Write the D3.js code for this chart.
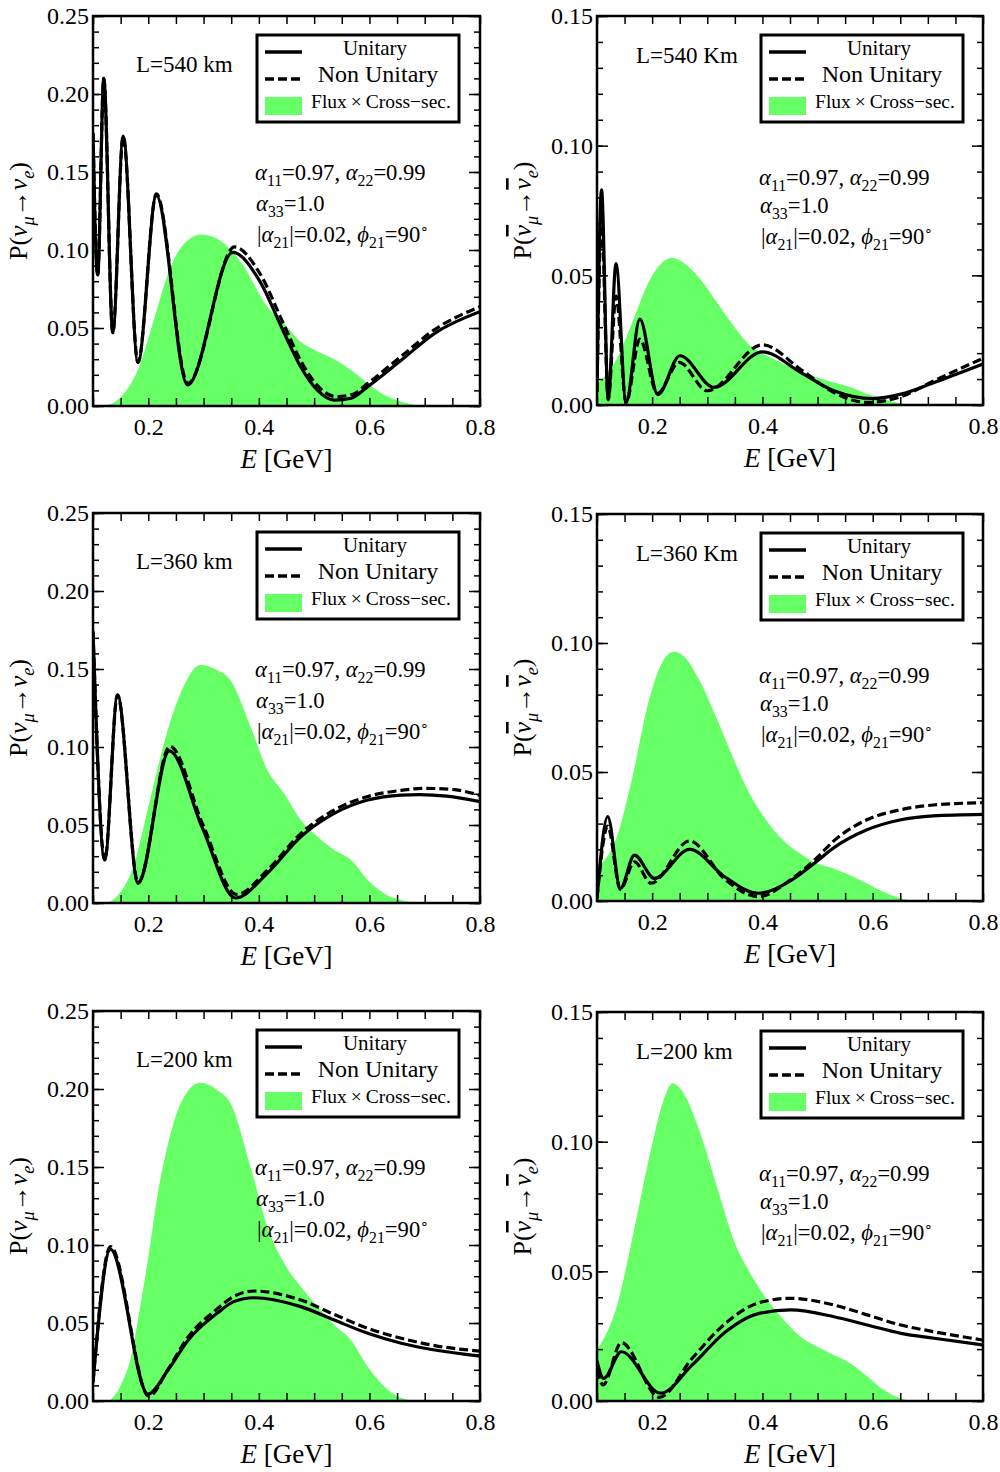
<!DOCTYPE html>
<html>
<head>
<meta charset="utf-8">
<script src="https://cdn.jsdelivr.net/npm/d3@7"></script>
<style>
body { margin: 0; background: #fff; }
svg text { font-family: "Liberation Serif", "Times New Roman", serif; fill: #000; }
</style>
</head>
<body>
<svg id="chart" width="1000" height="1472"></svg>
<script>
// [E (GeV), P]
let nu540Unitary = [[0.100, 0.175], [0.1085, 0.084], [0.1195, 0.210], [0.1358, 0.047], [0.1546, 0.173], [0.1813, 0.028], [0.2146, 0.135], [0.2709, 0.0135], [0.3528, 0.0985], [0.40, 0.081], [0.4455, 0.047], [0.4758, 0.025], [0.5061, 0.010], [0.5364, 0.0038], [0.567, 0.005], [0.597, 0.0124], [0.658, 0.0295], [0.718, 0.0466], [0.8, 0.0605]];
let nu540NonUnitary = [[0.100, 0.175], [0.1085, 0.084], [0.1195, 0.210], [0.1358, 0.047], [0.1546, 0.173], [0.1813, 0.028], [0.2146, 0.136], [0.2715, 0.0145], [0.356, 0.102], [0.40, 0.086], [0.4455, 0.052], [0.4758, 0.029], [0.5061, 0.013], [0.54, 0.006], [0.57, 0.0075], [0.597, 0.0145], [0.658, 0.032], [0.718, 0.049], [0.8, 0.0637]];
let nu540Flux = [[0.12, 0], [0.151, 0.006], [0.181, 0.023], [0.2116, 0.057], [0.2358, 0.085], [0.26, 0.102], [0.2964, 0.110], [0.333, 0.1053], [0.369, 0.0915], [0.4152, 0.0637], [0.4455, 0.053], [0.4758, 0.041], [0.5061, 0.035], [0.5364, 0.0300], [0.5667, 0.023], [0.597, 0.0145], [0.6273, 0.007], [0.6576, 0.0028], [0.706, 0], [0.8, 0]];

let anu540Unitary = [[0.100, 0.005], [0.1082, 0.083], [0.1203, 0.0023], [0.1345, 0.0545], [0.1527, 0.001], [0.1776, 0.0331], [0.2104, 0.004], [0.2503, 0.019], [0.3121, 0.0068], [0.40, 0.0205], [0.469, 0.0126], [0.5297, 0.0055], [0.60, 0.0025], [0.651, 0.0042], [0.7115, 0.0087], [0.8, 0.0158]];
let anu540NonUnitary = [[0.100, 0.005], [0.1082, 0.072], [0.1203, 0.002], [0.1345, 0.042], [0.1527, 0.001], [0.1776, 0.0254], [0.2095, 0.0045], [0.249, 0.0164], [0.30, 0.0055], [0.40, 0.0232], [0.469, 0.0138], [0.5297, 0.0048], [0.59, 0.001], [0.651, 0.0032], [0.7115, 0.0094], [0.8, 0.018]];
let anu540Flux = [[0.1, 0.008], [0.1358, 0.0177], [0.166, 0.033], [0.1964, 0.0485], [0.2267, 0.0562], [0.2358, 0.0568], [0.257, 0.0549], [0.2873, 0.0485], [0.3176, 0.0395], [0.3478, 0.0305], [0.378, 0.0228], [0.4085, 0.019], [0.4388, 0.0158], [0.469, 0.0132], [0.4994, 0.0106], [0.5297, 0.0087], [0.56, 0.0068], [0.5903, 0.0042], [0.62, 0.0023], [0.651, 0.0006], [0.68, 0], [0.8, 0]];

let nu360Unitary = [[0.100, 0.174], [0.1213, 0.0276], [0.1443, 0.1333], [0.1815, 0.0126], [0.238, 0.0975], [0.298, 0.048], [0.358, 0.0032], [0.4152, 0.019], [0.4758, 0.0425], [0.5364, 0.0575], [0.597, 0.066], [0.6576, 0.0692], [0.69, 0.0695], [0.74, 0.0685], [0.8, 0.065]];
let nu360NonUnitary = [[0.100, 0.174], [0.1213, 0.0276], [0.1443, 0.1335], [0.1815, 0.013], [0.239, 0.1005], [0.299, 0.050], [0.36, 0.0055], [0.4152, 0.021], [0.4758, 0.0445], [0.5364, 0.0596], [0.597, 0.0683], [0.6576, 0.0722], [0.70, 0.0735], [0.75, 0.0728], [0.8, 0.069]];
let nu360Flux = [[0.124, 0], [0.1425, 0.004], [0.1727, 0.023], [0.203, 0.066], [0.2335, 0.1088], [0.2636, 0.1387], [0.294, 0.1526], [0.3244, 0.1494], [0.3485, 0.143], [0.385, 0.113], [0.4152, 0.0853], [0.4455, 0.0703], [0.4758, 0.0532], [0.5061, 0.0425], [0.5364, 0.034], [0.5667, 0.0276], [0.597, 0.0147], [0.6273, 0.006], [0.6576, 0.002], [0.694, 0], [0.8, 0]];

let anu360Unitary = [[0.100, 0.001], [0.1194, 0.0327], [0.1424, 0.0049], [0.1679, 0.0178], [0.2042, 0.0088], [0.2679, 0.020], [0.3315, 0.0094], [0.392, 0.003], [0.4527, 0.0081], [0.4976, 0.0152], [0.5279, 0.0204], [0.5885, 0.0275], [0.649, 0.0314], [0.7097, 0.033], [0.8, 0.0336]];
let anu360NonUnitary = [[0.100, 0.001], [0.1194, 0.029], [0.1424, 0.0045], [0.1679, 0.0152], [0.198, 0.0069], [0.2679, 0.0233], [0.3315, 0.0085], [0.392, 0.0017], [0.4527, 0.0085], [0.4976, 0.0165], [0.5279, 0.023], [0.5885, 0.0314], [0.649, 0.0353], [0.7097, 0.0372], [0.8, 0.0381]];
let anu360Flux = [[0.1, 0.0133], [0.134, 0.0236], [0.1642, 0.048], [0.1945, 0.078], [0.2249, 0.0947], [0.24, 0.0966], [0.2551, 0.0953], [0.2855, 0.0857], [0.3158, 0.0714], [0.346, 0.0559], [0.3764, 0.0417], [0.4067, 0.0314], [0.437, 0.0236], [0.4673, 0.0185], [0.4976, 0.0146], [0.5279, 0.0127], [0.558, 0.0101], [0.5885, 0.0069], [0.619, 0.0036], [0.649, 0.0012], [0.685, 0], [0.8, 0]];

let nu200Unitary = [[0.100, 0.012], [0.1316, 0.0972], [0.1995, 0.0045], [0.236, 0.020], [0.272, 0.039], [0.3244, 0.0562], [0.3545, 0.0637], [0.391, 0.0662], [0.4758, 0.0605], [0.5364, 0.0519], [0.597, 0.0434], [0.6576, 0.037], [0.718, 0.0327], [0.8, 0.0288]];
let nu200NonUnitary = [[0.100, 0.012], [0.1316, 0.099], [0.201, 0.003], [0.236, 0.0205], [0.272, 0.041], [0.3244, 0.059], [0.3545, 0.067], [0.391, 0.0705], [0.4758, 0.0647], [0.5364, 0.0555], [0.597, 0.0466], [0.6576, 0.0402], [0.718, 0.0355], [0.8, 0.032]];
let nu200Flux = [[0.13, 0], [0.15, 0.010], [0.17, 0.030], [0.185, 0.060], [0.2, 0.092], [0.2153, 0.1288], [0.2395, 0.170], [0.2576, 0.190], [0.294, 0.204], [0.3244, 0.1994], [0.3485, 0.191], [0.385, 0.150], [0.4152, 0.1117], [0.4455, 0.0884], [0.4758, 0.0733], [0.5061, 0.0605], [0.5364, 0.0487], [0.5667, 0.039], [0.597, 0.022], [0.6273, 0.0092], [0.6576, 0.002], [0.69, 0], [0.8, 0]];

let anu200Unitary = [[0.100, 0.0155], [0.1121, 0.0087], [0.1442, 0.019], [0.2152, 0.003], [0.2727, 0.0139], [0.3333, 0.0267], [0.394, 0.0338], [0.451, 0.0351], [0.5297, 0.0325], [0.59, 0.0293], [0.651, 0.0261], [0.7115, 0.0242], [0.8, 0.0216]];
let anu200NonUnitary = [[0.100, 0.012], [0.111, 0.0062], [0.1442, 0.0225], [0.213, 0.0014], [0.2727, 0.0165], [0.3333, 0.030], [0.394, 0.0379], [0.451, 0.0396], [0.5297, 0.037], [0.59, 0.0332], [0.651, 0.0293], [0.7115, 0.0267], [0.8, 0.0235]];
let anu200Flux = [[0.1, 0.0197], [0.1358, 0.0364], [0.166, 0.0647], [0.1964, 0.0955], [0.2206, 0.116], [0.2369, 0.1225], [0.257, 0.1187], [0.2873, 0.1032], [0.3176, 0.0826], [0.3478, 0.0621], [0.378, 0.0492], [0.4085, 0.039], [0.4388, 0.0312], [0.469, 0.0248], [0.4994, 0.0209], [0.5297, 0.0177], [0.56, 0.0145], [0.5903, 0.0094], [0.62, 0.0042], [0.651, 0.001], [0.68, 0], [0.8, 0]];

let xMajorTicks = [0.2, 0.4, 0.6, 0.8];
let yTicksNu = [0, 0.05, 0.10, 0.15, 0.20, 0.25];
let yTicksAnu = [0, 0.05, 0.10, 0.15];
let legendLabels = ['Unitary', 'Non Unitary', 'Flux\u2009\u00d7\u2009Cross\u2212sec.'];

let panels = [
    {label: 'L=540 km', anti: false, yMax: 0.25, yTicks: yTicksNu, unitary: nu540Unitary, nonUnitary: nu540NonUnitary, flux: nu540Flux},
    {label: 'L=540 Km', anti: true, yMax: 0.15, yTicks: yTicksAnu, unitary: anu540Unitary, nonUnitary: anu540NonUnitary, flux: anu540Flux},
    {label: 'L=360 km', anti: false, yMax: 0.25, yTicks: yTicksNu, unitary: nu360Unitary, nonUnitary: nu360NonUnitary, flux: nu360Flux},
    {label: 'L=360 Km', anti: true, yMax: 0.15, yTicks: yTicksAnu, unitary: anu360Unitary, nonUnitary: anu360NonUnitary, flux: anu360Flux},
    {label: 'L=200 km', anti: false, yMax: 0.25, yTicks: yTicksNu, unitary: nu200Unitary, nonUnitary: nu200NonUnitary, flux: nu200Flux},
    {label: 'L=200 km', anti: true, yMax: 0.15, yTicks: yTicksAnu, unitary: anu200Unitary, nonUnitary: anu200NonUnitary, flux: anu200Flux}
];

const colX = [[93, 480], [597, 983]];
const rowYLeft = [[16, 406], [513, 903], [1011, 1401]];
const rowYRight = [[16, 405], [514, 901], [1012, 1401]];
const GREEN = '#66ff66';

let svg = d3.select('#chart');

// text with italic / sub / sup / overline runs
let richText = (sel, parts, size) => {
    let shift = 0;
    parts.forEach(([txt, style]) => {
        let flags = (style || '').split(' ');
        let target = 0, fs = size;
        if (flags.includes('sub')) { target = size * 0.28; fs = size * 0.7; }
        if (flags.includes('sup')) { target = -size * 0.42; fs = size * 0.6; }
        let ts = sel.append('tspan').text(txt)
            .attr('dy', target - shift)
            .style('font-size', fs + 'px');
        shift = target;
        if (flags.includes('i')) ts.style('font-style', 'italic');
        if (flags.includes('o')) ts.style('text-decoration', 'overline');
    });
};

let styleAxis = (g, size) => {
    g.select('.domain').remove();
    g.selectAll('.tick line').attr('stroke', '#000').attr('stroke-width', 1.5);
    g.selectAll('text').attr('font-family', null).attr('font-size', null)
        .style('font-size', size + 'px');
    g.attr('font-family', null);
};

panels.forEach((p, i) => {
    let col = i % 2, row = Math.floor(i / 2);
    let [x0, x1] = colX[col];
    let [y0, y1] = (col ? rowYRight : rowYLeft)[row];

    let x = d3.scaleLinear().domain([0.1, 0.8]).range([x0, x1]);
    let y = d3.scaleLinear().domain([0, p.yMax]).range([y1, y0]);
    let g = svg.append('g');

    let clipId = 'clip' + i;
    svg.append('clipPath').attr('id', clipId)
        .append('rect').attr('x', x0).attr('y', y0).attr('width', x1 - x0).attr('height', y1 - y0);

    let plot = g.append('g').attr('clip-path', `url(#${clipId})`);

    plot.append('path')
        .datum(p.flux)
        .attr('fill', GREEN)
        .attr('d', d3.area().x(d => x(d[0])).y0(y(0)).y1(d => y(d[1])).curve(d3.curveMonotoneX));

    let line = d3.line().x(d => x(d[0])).y(d => y(d[1])).curve(d3.curveMonotoneX);

    plot.append('path').datum(p.unitary)
        .attr('fill', 'none').attr('stroke', '#000').attr('stroke-width', 3.2)
        .attr('d', line);

    plot.append('path').datum(p.nonUnitary)
        .attr('fill', 'none').attr('stroke', '#000').attr('stroke-width', 3.2)
        .attr('stroke-dasharray', '9,4')
        .attr('d', line);

    // Ticks on all four sides, pointing inward.
    let xMinor = d3.range(0.1, 0.8001, 0.05);
    let yMinor = d3.range(0, p.yMax + 0.0001, 0.01);

    g.append('g').attr('transform', `translate(0,${y1})`)
        .call(d3.axisBottom(x).tickValues(xMinor).tickSize(-8).tickFormat(''))
        .call(a => styleAxis(a, 24));
    g.append('g').attr('transform', `translate(0,${y0})`)
        .call(d3.axisTop(x).tickValues(xMinor).tickSize(-8).tickFormat(''))
        .call(a => styleAxis(a, 24));
    g.append('g').attr('transform', `translate(0,${y1})`)
        .call(d3.axisBottom(x).tickValues(xMajorTicks).tickSize(0).tickPadding(12).tickFormat(d3.format('.1f')))
        .call(a => styleAxis(a, 24));

    [[yMinor, 6], [p.yTicks, 11]].forEach(([vals, len]) => {
        g.append('g').attr('transform', `translate(${x0},0)`)
            .call(d3.axisLeft(y).tickValues(vals).tickSize(-len).tickFormat(''))
            .call(a => styleAxis(a, 24));
        g.append('g').attr('transform', `translate(${x1},0)`)
            .call(d3.axisRight(y).tickValues(vals).tickSize(-len).tickFormat(''))
            .call(a => styleAxis(a, 24));
    });
    g.append('g').attr('transform', `translate(${x0},0)`)
        .call(d3.axisLeft(y).tickValues(p.yTicks).tickSize(0).tickPadding(4).tickFormat(d3.format('.2f')))
        .call(a => styleAxis(a, 24));

    g.append('rect')
        .attr('x', x0).attr('y', y0).attr('width', x1 - x0).attr('height', y1 - y0)
        .attr('fill', 'none').attr('stroke', '#000').attr('stroke-width', 2.5);

    // Axis titles
    richText(g.append('text')
        .attr('x', (x0 + x1) / 2).attr('y', y1 + 62)
        .attr('text-anchor', 'middle'),
        [['E', 'i'], [' [GeV]', '']], 27);

    let ny = g.append('text')
        .attr('transform', `translate(${x0 - 66},${(y0 + y1) / 2}) rotate(-90)`)
        .attr('text-anchor', 'middle');
    let nuStyle = p.anti ? 'i o' : 'i';
    richText(ny, [['P(', ''], ['\u03bd', nuStyle], ['\u03bc', 'i sub'], ['\u2192', ''], ['\u03bd', nuStyle], ['e', 'i sub'], [')', '']], 26);

    // Baseline label
    g.append('text')
        .attr('x', x0 + (col ? 39 : 43)).attr('y', y0 + (col ? 47 : 56))
        .style('font-size', '23px')
        .text(p.label);

    // Parameters
    let px = x0 + 162, py = y0 + (col ? 169 : 164);
    richText(g.append('text').attr('x', px).attr('y', py),
        [['\u03b1', 'i'], ['11', 'sub'], ['=0.97, ', ''], ['\u03b1', 'i'], ['22', 'sub'], ['=0.99', '']], 22.6);
    richText(g.append('text').attr('x', px + 1).attr('y', py + (col ? 28 : 31)),
        [['\u03b1', 'i'], ['33', 'sub'], ['=1.0', '']], 22.6);
    richText(g.append('text').attr('x', px + 2).attr('y', py + (col ? 59 : 62)),
        [['|', ''], ['\u03b1', 'i'], ['21', 'sub'], ['|=0.02, ', ''], ['\u03d5', 'i'], ['21', 'sub'], ['=90', ''], ['\u2218', 'sup']], 22.6);

    // Legend
    let lg = g.append('g').attr('transform', `translate(${x0 + 164},${y0 + 19})`);
    lg.append('rect').attr('width', 202).attr('height', 87)
        .attr('fill', '#fff').attr('stroke', '#000').attr('stroke-width', 3);
    lg.append('line').attr('x1', 8).attr('x2', 45).attr('y1', 17).attr('y2', 17)
        .attr('stroke', '#000').attr('stroke-width', 3.5);
    lg.append('line').attr('x1', 8).attr('x2', 45).attr('y1', 44).attr('y2', 44)
        .attr('stroke', '#000').attr('stroke-width', 3.5).attr('stroke-dasharray', '9,4');
    lg.append('rect').attr('x', 8).attr('y', 62).attr('width', 37).attr('height', 18)
        .attr('fill', GREEN);
    lg.append('text').attr('x', 118).attr('y', 20).attr('text-anchor', 'middle')
        .style('font-size', '21px').text(legendLabels[0]);
    lg.append('text').attr('x', 121).attr('y', 47).attr('text-anchor', 'middle')
        .style('font-size', '24px').text(legendLabels[1]);
    lg.append('text').attr('x', 124).attr('y', 73).attr('text-anchor', 'middle')
        .style('font-size', '19.5px').text(legendLabels[2]);
});
</script>
</body>
</html>
